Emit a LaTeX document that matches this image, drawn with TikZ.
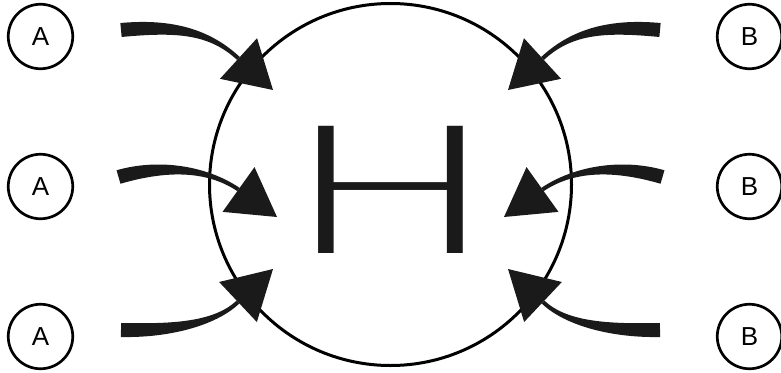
\documentclass[tikz,border=0pt]{standalone}
\usepackage{fontspec}
\setmainfont{Liberation Sans}
\IfFontExistsTF{Fira Sans ExtraLight}{\newfontfamily\hfont{Fira Sans ExtraLight}}{%
  \IfFontExistsTF{Fira Sans Light}{\newfontfamily\hfont{Fira Sans Light}}{\newfontfamily\hfont{Liberation Sans}}}
\usetikzlibrary{calc}
\definecolor{ink}{HTML}{1A1A1A}
% tapered stroke: start, control 1, control 2, end
\newcommand\taperline[4]{%
  \fill[ink] ($(#1)!7pt!90:(#2)$) .. controls ($(#2)!7pt!-90:(#1)$) and ($(#3)!2pt!90:(#4)$) .. ($(#4)!2pt!-90:(#3)$)
    -- ($(#4)!2pt!90:(#3)$) .. controls ($(#3)!2pt!-90:(#4)$) and ($(#2)!7pt!90:(#1)$) .. ($(#1)!7pt!-90:(#2)$) -- cycle;}
% arrow head: base middle, tip
\newcommand\headtri[2]{%
  \fill[ink] (#2) -- ($(#1)!27.5pt!90:(#2)$) -- ($(#1)!27.5pt!-90:(#2)$) -- cycle;}
\tikzset{
  smallnode/.style={circle, draw=black, line width=2.7pt, minimum size=64.5pt, inner sep=0pt,
    font=\fontsize{26pt}{26pt}\selectfont},
  hubnode/.style={circle, draw=black, line width=3pt, minimum size=362pt, inner sep=0pt},
  hlabel/.style={inner sep=0pt, text=ink, font=\hfont\fontsize{186pt}{186pt}\selectfont, xscale=1.78}
}
\begin{document}
\begin{tikzpicture}[x=1pt, y=-1pt]
\useasboundingbox (0,0) rectangle (781,372);
\node[hubnode] (hub) at (390.5,184.5) {};
\node[hlabel] (H) at (391,190) {H};
\node[smallnode] (A1) at (40.5,36.5) {A};
\node[smallnode] (A2) at (40.5,186.5) {A};
\node[smallnode] (A3) at (40.5,336.5) {A};
\node[smallnode] (B1) at (749.5,36.5) {B};
\node[smallnode] (B2) at (749.5,186.5) {B};
\node[smallnode] (B3) at (749.5,336.5) {B};
% left arrows
\coordinate (l1s) at (121,30);   \coordinate (l1a) at (175,25);  \coordinate (l1b) at (210,32);
\coordinate (l1m) at (238.5,58.5); \coordinate (l1t) at (273,90);
\coordinate (l2s) at (118.5,177); \coordinate (l2a) at (160,165); \coordinate (l2b) at (205,167);
\coordinate (l2m) at (238.5,189.5); \coordinate (l2t) at (277,217);
\coordinate (l3s) at (121,330);  \coordinate (l3a) at (170,331); \coordinate (l3b) at (215,324);
\coordinate (l3m) at (238,302);  \coordinate (l3t) at (273,269);
% right arrows (mirrored)
\coordinate (r1s) at (660,30);   \coordinate (r1a) at (606,25);  \coordinate (r1b) at (571,32);
\coordinate (r1m) at (542.5,58.5); \coordinate (r1t) at (508,90);
\coordinate (r2s) at (662.5,177); \coordinate (r2a) at (621,165); \coordinate (r2b) at (576,167);
\coordinate (r2m) at (542.5,189.5); \coordinate (r2t) at (504,217);
\coordinate (r3s) at (660,330);  \coordinate (r3a) at (611,331); \coordinate (r3b) at (566,324);
\coordinate (r3m) at (543,302);  \coordinate (r3t) at (508,269);
\foreach \k in {l1,l2,l3,r1,r2,r3}{
  \taperline{\k s}{\k a}{\k b}{\k m}
  \headtri{\k m}{\k t}
}
\end{tikzpicture}
\end{document}
